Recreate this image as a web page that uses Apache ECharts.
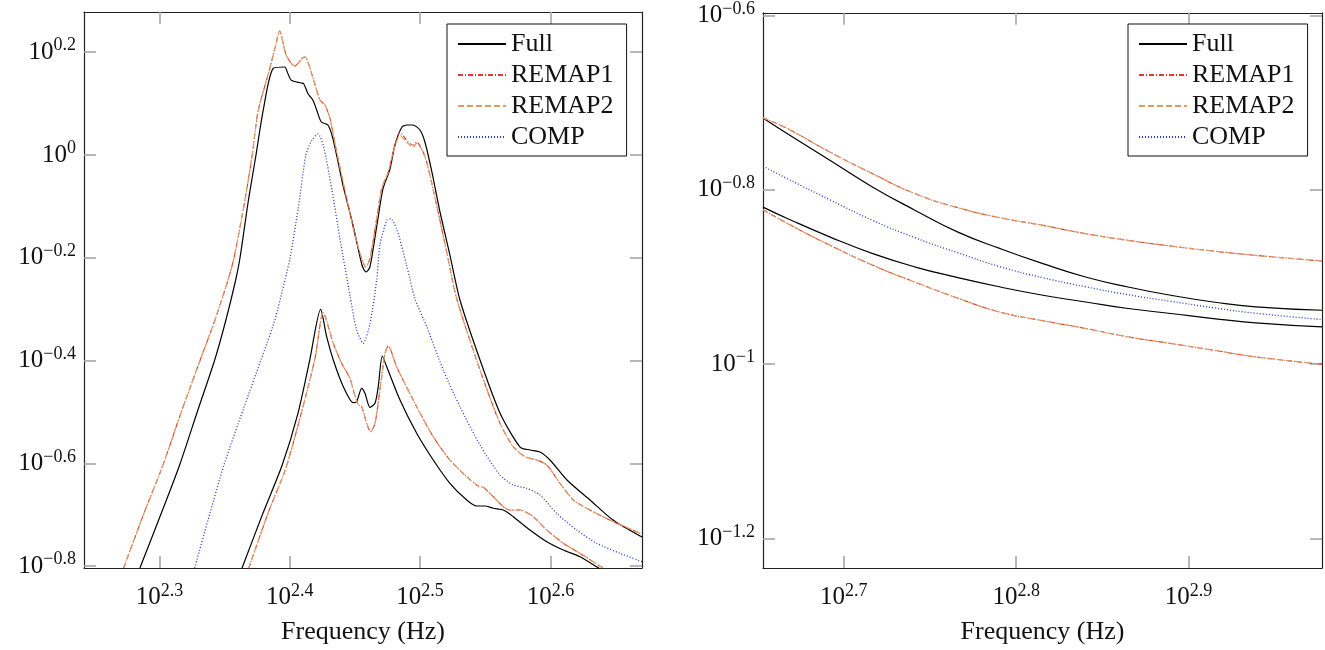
<!DOCTYPE html>
<html>
<head>
<meta charset="utf-8">
<script src="https://cdn.jsdelivr.net/npm/echarts@6/dist/echarts.min.js"></script>
<style>html,body{margin:0;padding:0;background:#fff}#c{width:1325px;height:650px}</style>
</head>
<body>
<div id="c"></div>
<script>
// All values are log10 exponents (frequency in Hz, amplitude).
const seriesNames = ['Full', 'REMAP1', 'REMAP2', 'COMP'];
const axisTitle = 'Frequency (Hz)';

// ---- Left panel ----
const leftXTicks = [2.3, 2.4, 2.5, 2.6];
const leftYTicks = [-0.8, -0.6, -0.4, -0.2, 0, 0.2];

const leftFullUpperX = [2.2850, 2.3014, 2.3155, 2.3295, 2.3424, 2.3510, 2.3585, 2.3618, 2.3683, 2.3741, 2.3794, 2.3871, 2.3961, 2.3986, 2.4012, 2.4088, 2.4107, 2.4140, 2.4178, 2.4203, 2.4242, 2.4293, 2.4332, 2.4408, 2.4485, 2.4554, 2.4585, 2.4615, 2.4669, 2.4715, 2.4769, 2.4807, 2.4861, 2.4899, 2.4945, 2.4999, 2.5037, 2.5091, 2.5153, 2.5229, 2.5306, 2.5460, 2.5613, 2.5767, 2.5843, 2.5920, 2.5997, 2.6127, 2.6304, 2.6480, 2.6703];
const leftFullUpperY = [-0.8035, -0.6971, -0.6031, -0.4961, -0.3988, -0.3210, -0.2432, -0.2004, -0.0875, 0.0000, 0.0837, 0.1679, 0.1712, 0.1582, 0.1453, 0.1401, 0.1387, 0.1193, 0.1064, 0.0901, 0.0642, 0.0584, 0.0311, -0.0584, -0.1362, -0.2140, -0.2276, -0.2179, -0.1362, -0.0661, -0.0272, 0.0195, 0.0545, 0.0584, 0.0584, 0.0486, 0.0253, -0.0331, -0.1109, -0.1946, -0.2821, -0.3988, -0.5019, -0.5681, -0.5739, -0.5778, -0.5934, -0.6323, -0.6712, -0.7101, -0.7432];

const leftFullLowerX = [2.3633, 2.3794, 2.3942, 2.4063, 2.4153, 2.4237, 2.4283, 2.4334, 2.4411, 2.4487, 2.4513, 2.4552, 2.4577, 2.4616, 2.4654, 2.4679, 2.4710, 2.4744, 2.4846, 2.4974, 2.5101, 2.5229, 2.5358, 2.5434, 2.5498, 2.5562, 2.5639, 2.5715, 2.5843, 2.5972, 2.6099, 2.6227, 2.6355, 2.6381];
const leftFullLowerY = [-0.8041, -0.6971, -0.6031, -0.5025, -0.3994, -0.3002, -0.3535, -0.3988, -0.4508, -0.4819, -0.4800, -0.4539, -0.4636, -0.4909, -0.4831, -0.4508, -0.3911, -0.4119, -0.4767, -0.5414, -0.5934, -0.6387, -0.6712, -0.6829, -0.6829, -0.6873, -0.6907, -0.7037, -0.7296, -0.7523, -0.7685, -0.7815, -0.8010, -0.8054];

const leftRemap1UpperX = [2.2725, 2.2881, 2.3027, 2.3173, 2.3313, 2.3426, 2.3526, 2.3572, 2.3656, 2.3712, 2.3756, 2.3846, 2.3892, 2.3922, 2.3973, 2.4038, 2.4101, 2.4117, 2.4180, 2.4232, 2.4271, 2.4309, 2.4360, 2.4437, 2.4500, 2.4552, 2.4583, 2.4615, 2.4667, 2.4705, 2.4756, 2.4794, 2.4846, 2.4897, 2.4948, 2.4974, 2.5012, 2.5051, 2.5127, 2.5204, 2.5281, 2.5460, 2.5613, 2.5715, 2.5805, 2.5895, 2.5972, 2.6074, 2.6176, 2.6304, 2.6483, 2.6703];
const leftRemap1UpperY = [-0.8035, -0.6971, -0.6031, -0.4961, -0.3988, -0.3210, -0.2432, -0.2004, -0.0875, 0.0000, 0.0837, 0.1679, 0.2134, 0.2412, 0.1940, 0.1732, 0.1893, 0.1907, 0.1484, 0.1070, 0.0967, 0.0706, 0.0058, -0.0850, -0.1556, -0.2017, -0.2179, -0.2017, -0.1239, -0.0656, -0.0331, 0.0058, 0.0447, 0.0286, 0.0189, 0.0253, 0.0123, -0.0136, -0.0979, -0.1887, -0.2796, -0.4183, -0.5220, -0.5675, -0.5870, -0.5934, -0.6031, -0.6387, -0.6712, -0.6907, -0.7134, -0.7374];
const leftRemap2UpperX = leftRemap1UpperX;
const leftRemap2UpperY = [-0.8035, -0.6971, -0.6031, -0.4961, -0.3988, -0.3210, -0.2432, -0.2004, -0.0875, 0.0000, 0.0837, 0.1679, 0.2134, 0.2412, 0.1940, 0.1732, 0.1893, 0.1907, 0.1484, 0.1070, 0.0967, 0.0706, 0.0058, -0.0850, -0.1556, -0.2017, -0.2179, -0.2017, -0.1239, -0.0656, -0.0331, 0.0058, 0.0380, 0.0250, 0.0150, 0.0230, 0.0110, -0.0136, -0.0979, -0.1887, -0.2796, -0.4183, -0.5220, -0.5675, -0.5870, -0.5934, -0.6031, -0.6387, -0.6712, -0.6907, -0.7134, -0.7374];

const leftRemap1LowerX = [2.3685, 2.3833, 2.3978, 2.4191, 2.4257, 2.4334, 2.4398, 2.4462, 2.4487, 2.4526, 2.4552, 2.4590, 2.4621, 2.4654, 2.4692, 2.4731, 2.4756, 2.4820, 2.4974, 2.5101, 2.5229, 2.5358, 2.5447, 2.5485, 2.5536, 2.5639, 2.5690, 2.5767, 2.5869, 2.5972, 2.6099, 2.6227, 2.6406];
const leftRemap1LowerY = [-0.8041, -0.6971, -0.6031, -0.3994, -0.3068, -0.3663, -0.4053, -0.4344, -0.4572, -0.4864, -0.4897, -0.5220, -0.5383, -0.5220, -0.4572, -0.3858, -0.3716, -0.4119, -0.4897, -0.5481, -0.5934, -0.6259, -0.6440, -0.6465, -0.6582, -0.6842, -0.6907, -0.6907, -0.7037, -0.7296, -0.7554, -0.7749, -0.8041];
const leftRemap2LowerX = leftRemap1LowerX;
const leftRemap2LowerY = leftRemap1LowerY;

const leftCompX = [2.3270, 2.3388, 2.3495, 2.3641, 2.3779, 2.3886, 2.3963, 2.4002, 2.4063, 2.4124, 2.4170, 2.4216, 2.4257, 2.4322, 2.4385, 2.4462, 2.4513, 2.4564, 2.4616, 2.4667, 2.4692, 2.4744, 2.4774, 2.4820, 2.4897, 2.4961, 2.5051, 2.5178, 2.5306, 2.5460, 2.5613, 2.5715, 2.5818, 2.5920, 2.6048, 2.6202, 2.6355, 2.6534, 2.6703];
const leftCompY = [-0.8035, -0.6965, -0.6031, -0.4961, -0.3988, -0.3210, -0.2432, -0.2004, -0.1070, 0.0000, 0.0292, 0.0409, 0.0189, -0.0656, -0.1628, -0.2730, -0.3405, -0.3663, -0.3274, -0.2432, -0.1757, -0.1270, -0.1239, -0.1434, -0.2146, -0.2796, -0.3340, -0.4183, -0.4897, -0.5642, -0.6226, -0.6420, -0.6484, -0.6615, -0.6971, -0.7296, -0.7554, -0.7749, -0.7912];

// ---- Right panel ----
const rightXTicks = [2.7, 2.8, 2.9];
const rightYTicks = [-1.2, -1, -0.8, -0.6];
const rightX = [2.6531, 2.6675, 2.6921, 2.7168, 2.7415, 2.7662, 2.7908, 2.8155, 2.8402, 2.8649, 2.8896, 2.9143, 2.9389, 2.9774];
const rightFullUpperY = [-0.7175, -0.7359, -0.7664, -0.7970, -0.8237, -0.8486, -0.8676, -0.8848, -0.9001, -0.9116, -0.9211, -0.9288, -0.9345, -0.9383];
const rightFullLowerY = [-0.8199, -0.8332, -0.8543, -0.8733, -0.8887, -0.9008, -0.9116, -0.9211, -0.9288, -0.9363, -0.9420, -0.9478, -0.9528, -0.9574];
const rightRemap1UpperY = [-0.7175, -0.7301, -0.7569, -0.7817, -0.8046, -0.8206, -0.8321, -0.8409, -0.8504, -0.8581, -0.8646, -0.8703, -0.8753, -0.8818];
const rightRemap1LowerY = [-0.8229, -0.8389, -0.8638, -0.8867, -0.9062, -0.9245, -0.9405, -0.9503, -0.9592, -0.9688, -0.9764, -0.9841, -0.9918, -1.0001];
const rightRemap2UpperY = rightRemap1UpperY;
const rightRemap2LowerY = rightRemap1LowerY;
const rightCompY = [-0.7730, -0.7876, -0.8117, -0.8352, -0.8552, -0.8724, -0.8884, -0.9010, -0.9113, -0.9205, -0.9280, -0.9354, -0.9417, -0.9489];

// ---- Styling ----
const FONT = 'Liberation Serif';
const styles = {
  Full:   { color: '#000000', width: 1.2, type: 'solid' },
  REMAP1: { color: '#e2392c', width: 1.1, type: [5, 2, 1, 2] },
  REMAP2: { color: '#d99c67', width: 1.2, type: [6, 3] },
  COMP:   { color: '#2335c4', width: 1.3, type: [1, 2] }
};

const zip = (xs, ys) => xs.map((x, i) => [x, ys[i]]);
function expLabel(v) {
  const s = String(Math.round(v * 10) / 10).replace('-', '\u2212');
  return '{b|10}{s|' + s + '}';
}
const rich = {
  b: { fontFamily: FONT, fontSize: 25, lineHeight: 31, color: '#111' },
  s: { fontFamily: FONT, fontSize: 18, lineHeight: 18, verticalAlign: 'top', color: '#111' }
};

function xAxis(grid, min, max, ticks, top) {
  return {
    type: 'value', gridIndex: grid, min: min, max: max, position: top ? 'top' : 'bottom',
    name: top ? '' : axisTitle, nameLocation: 'middle', nameGap: 51,
    nameTextStyle: { fontFamily: FONT, fontSize: 26, color: '#111' },
    axisLine: { show: true, onZero: false, lineStyle: { color: '#222', width: 1.2 } },
    axisTick: { show: true, inside: true, length: 12, customValues: ticks, lineStyle: { color: '#a6a6a6', width: 1.6 } },
    axisLabel: { show: !top, customValues: ticks, margin: 14, formatter: expLabel, rich: rich },
    splitLine: { show: false }
  };
}
function yAxis(grid, min, max, ticks, right) {
  return {
    type: 'value', gridIndex: grid, min: min, max: max, position: right ? 'right' : 'left',
    axisLine: { show: true, onZero: false, lineStyle: { color: '#222', width: 1.2 } },
    axisTick: { show: true, inside: true, length: 12, customValues: ticks, lineStyle: { color: '#a6a6a6', width: 1.6 } },
    axisLabel: { show: !right, customValues: ticks, margin: 8, formatter: expLabel, rich: rich },
    splitLine: { show: false }
  };
}

function line(name, data, xi, yi, smooth) {
  const st = styles[name];
  return {
    name: name, type: 'line', xAxisIndex: xi, yAxisIndex: yi, data: data,
    symbol: 'none', smooth: smooth, clip: true,
    lineStyle: { color: st.color, width: st.width, type: st.type },
    itemStyle: { color: st.color }
  };
}

function legend(left) {
  return {
    left: left, top: 24, orient: 'vertical', data: seriesNames,
    itemWidth: 48, itemHeight: 14, itemGap: 5,
    itemStyle: { opacity: 0 },
    padding: [7, 13, 6, 10], borderColor: '#111', borderWidth: 1, backgroundColor: '#fff',
    textStyle: { fontFamily: FONT, fontSize: 26, lineHeight: 24, color: '#111' }
  };
}

const option = {
  animation: false,
  backgroundColor: '#fff',
  grid: [
    { left: 84, top: 12, width: 558, height: 556 },
    { left: 763, top: 12, width: 559, height: 556 }
  ],
  xAxis: [
    xAxis(0, 2.2421, 2.6703, leftXTicks, false),
    xAxis(0, 2.2421, 2.6703, leftXTicks, true),
    xAxis(1, 2.6531, 2.9774, rightXTicks, false),
    xAxis(1, 2.6531, 2.9774, rightXTicks, true)
  ],
  yAxis: [
    yAxis(0, -0.8035, 0.2782, leftYTicks, false),
    yAxis(0, -0.8035, 0.2782, leftYTicks, true),
    yAxis(1, -1.2341, -0.5969, rightYTicks, false),
    yAxis(1, -1.2341, -0.5969, rightYTicks, true)
  ],
  legend: [legend(447), legend(1128)],
  series: [
    line('Full', zip(leftFullUpperX, leftFullUpperY), 0, 0, 0.25),
    line('Full', zip(leftFullLowerX, leftFullLowerY), 0, 0, 0.25),
    line('REMAP1', zip(leftRemap1UpperX, leftRemap1UpperY), 0, 0, 0.25),
    line('REMAP1', zip(leftRemap1LowerX, leftRemap1LowerY), 0, 0, 0.25),
    line('REMAP2', zip(leftRemap2UpperX, leftRemap2UpperY), 0, 0, 0.25),
    line('REMAP2', zip(leftRemap2LowerX, leftRemap2LowerY), 0, 0, 0.25),
    line('COMP', zip(leftCompX, leftCompY), 0, 0, 0.25),
    line('Full', zip(rightX, rightFullUpperY), 2, 2, 0.5),
    line('Full', zip(rightX, rightFullLowerY), 2, 2, 0.5),
    line('REMAP1', zip(rightX, rightRemap1UpperY), 2, 2, 0.5),
    line('REMAP1', zip(rightX, rightRemap1LowerY), 2, 2, 0.5),
    line('REMAP2', zip(rightX, rightRemap2UpperY), 2, 2, 0.5),
    line('REMAP2', zip(rightX, rightRemap2LowerY), 2, 2, 0.5),
    line('COMP', zip(rightX, rightCompY), 2, 2, 0.5)
  ]
};

const chart = echarts.init(document.getElementById('c'), null, { renderer: 'canvas' });
chart.setOption(option);
</script>
</body>
</html>
